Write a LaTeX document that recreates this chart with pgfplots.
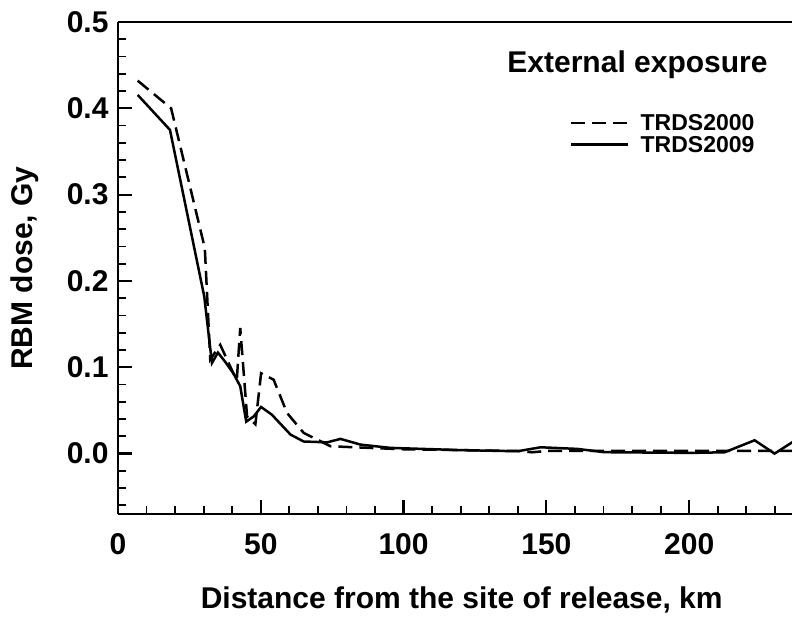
\documentclass[border=0pt]{standalone}
\usepackage{pgfplots}
\pgfplotsset{compat=1.18}
\usepackage{fontspec}
\setmainfont{Liberation Sans}

\pgfplotstableread{
x y
6.9 0.432
18.6 0.400
30.4 0.238
32.3 0.109
35.8 0.126
40.4 0.093
41.6 0.0856
42.8 0.1455
45.2 0.043
48.1 0.034
50.1 0.093
54.5 0.0856
59.2 0.047
65.0 0.024
74.4 0.0085
85.0 0.007
100 0.005
120 0.004
140 0.003
145 0.0015
150 0.003
170 0.003
200 0.003
236.5 0.003
}\trdsA

\pgfplotstableread{
x y
6.9 0.4155
18.2 0.375
30.2 0.182
32.9 0.105
35.0 0.117
37.6 0.106
40.4 0.093
42.8 0.078
44.9 0.037
47.5 0.043
50.1 0.054
53.9 0.045
60.4 0.022
65.0 0.014
73.2 0.013
77.9 0.017
84.9 0.0104
95.4 0.0066
120 0.004
139.9 0.0027
148 0.0073
160.9 0.0054
170.3 0.0016
200.7 0.0008
212.4 0.0015
222.9 0.0154
229.9 0.0
236.5 0.014
}\trdsB

\begin{document}
\begin{tikzpicture}
\begin{axis}[
  at={(0,0)}, anchor=south west,
  width=674bp, height=492bp, scale only axis,
  xmin=0, xmax=236, ymin=-0.07, ymax=0.5,
  axis lines=left,
  axis line style={line width=2.5bp, -},
  tick align=inside,
  xtick={0,50,100,150,200},
  minor xtick={10,20,30,40,60,70,80,90,110,120,130,140,160,170,180,190,210,220,230},
  ytick={0,0.1,0.2,0.3,0.4,0.5},
  minor ytick={-0.06,-0.04,-0.02,0.02,0.04,0.06,0.08,0.12,0.14,0.16,0.18,0.22,0.24,0.26,0.28,0.32,0.34,0.36,0.38,0.42,0.44,0.46,0.48},
  major tick length=14bp, minor tick length=8bp,
  major tick style={line width=2.2bp, black},
  minor tick style={line width=1.8bp, black},
  /pgf/number format/assume math mode=true,
  yticklabel style={/pgf/number format/fixed, /pgf/number format/fixed zerofill, /pgf/number format/precision=1, xshift=-6bp},
  scaled y ticks=false,
  tick label style={font=\bfseries\fontsize{30bp}{32bp}\selectfont},
  xticklabel style={yshift=-16bp},
  xlabel={Distance from the site of release, km},
  ylabel={RBM dose, Gy},
  label style={font=\bfseries\fontsize{30bp}{32bp}\selectfont},
  xlabel style={at={(axis description cs:0.510,-0.175)}, anchor=center},
  ylabel style={at={(axis description cs:-0.138,0.5)}, anchor=center},
  legend style={at={(axis description cs:0.6706,0.7724)}, anchor=west,
    draw=none, fill=none, inner sep=0pt,
    font=\bfseries\fontsize{23bp}{26bp}\selectfont,
    /tikz/every odd column/.append style={column sep=9bp}},
  legend cell align=left,
  legend image code/.code={\draw[#1] (0bp,0bp) -- (57bp,0bp);},
  clip=true,
]
\addplot[black, line width=2.5bp, dash pattern=on 14bp off 7bp] table {\trdsA};
\addlegendentry{TRDS2000}
\addplot[black, line width=2.5bp] table {\trdsB};
\addlegendentry{TRDS2009}
\draw[line width=2.5bp] (rel axis cs:0,1) -- (rel axis cs:1,1);
\node[font=\bfseries\fontsize{30bp}{32bp}\selectfont] at (axis description cs:0.7708,0.9126) {External exposure};
\end{axis}
\pgfresetboundingbox
\useasboundingbox (-118bp,-104bp) rectangle (674bp,514bp);
\end{tikzpicture}
\end{document}
